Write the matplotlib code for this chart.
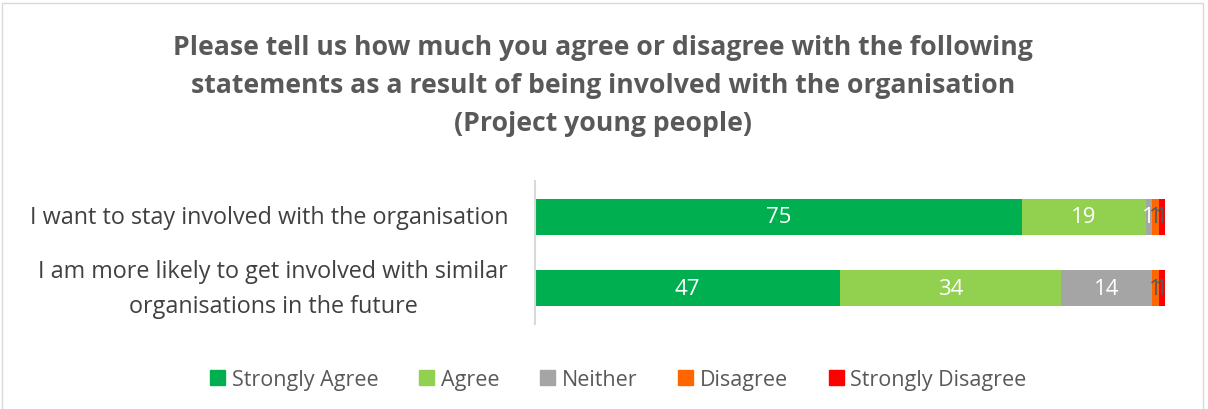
import matplotlib.pyplot as plt
from matplotlib.patches import Rectangle

plt.rcParams['font.family'] = ['Open Sans', 'DejaVu Sans']

statements = ['I want to stay involved with the organisation',
              'I am more likely to get involved with similar\norganisations in the future']
responses = ['Strongly Agree', 'Agree', 'Neither', 'Disagree', 'Strongly Disagree']
values = {
    'Strongly Agree': [75, 47],
    'Agree': [19, 34],
    'Neither': [1, 14],
    'Disagree': [1, 1],
    'Strongly Disagree': [1, 1],
}
colors = ['#00B050', '#92D050', '#A5A5A5', '#FF6600', '#FF0000']
label_colors = ['white', 'white', 'white', '#595959', '#595959']

fig = plt.figure(figsize=(12.08, 4.10), dpi=100)
ax = fig.add_axes([0.4429, 0.207, 0.5215, 0.349])

ypos = list(range(len(statements)))
left = [0, 0]
for resp, col, lc in zip(responses, colors, label_colors):
    vals = values[resp]
    bars = ax.barh(ypos, vals, left=left, height=0.5, color=col, edgecolor='none')
    ax.bar_label(bars, labels=[str(v) for v in vals], label_type='center',
                 color=lc, fontsize=16)
    left = [a + b for a, b in zip(left, vals)]

ax.set_xlim(0, 97)
ax.set_ylim(1.5, -0.5)
ax.set_xticks([])
ax.set_yticks([])
for s in ['top', 'right', 'bottom']:
    ax.spines[s].set_visible(False)
ax.spines['left'].set_color('#D9D9D9')
ax.spines['left'].set_linewidth(1.5)

# category labels, right aligned next to the axis, centred lines
for y, txt in zip(ypos, statements):
    ax.annotate(txt, xy=(0, y), xycoords=('axes fraction', 'data'),
                xytext=(-27, 0), textcoords='offset pixels',
                ha='right', va='center', multialignment='center',
                fontsize=16.8, color='#404040', linespacing=1.6)

fig.text(0.499, 0.79, 'Please tell us how much you agree or disagree with the following\n'
         'statements as a result of being involved with the organisation\n'
         '(Project young people)', ha='center', va='center',
         fontsize=19.2, fontweight='bold', color='#595959', linespacing=1.58)

handles = [Rectangle((0, 0), 1, 1, color=c) for c in colors]
fig.legend(handles, responses, loc='center', bbox_to_anchor=(0.512, 0.073),
           ncol=5, frameon=False, fontsize=15.5, labelcolor='#595959',
           handlelength=0.7, handleheight=0.7, handletextpad=0.3, columnspacing=1.9)

# outer chart border
fig.add_artist(Rectangle((0.002, -0.01), 0.994, 1.0, transform=fig.transFigure,
                         fill=False, edgecolor='#D9D9D9', linewidth=1))

fig.savefig('out.png', dpi=100)
